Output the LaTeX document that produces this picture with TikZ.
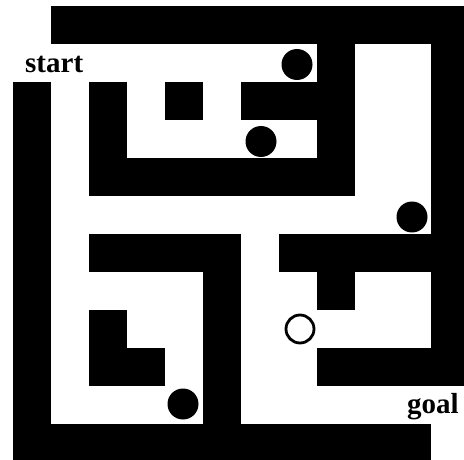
\documentclass[tikz,border=0pt]{standalone}
\usepackage{fontspec}
\setmainfont{Liberation Serif}
\begin{document}
\begin{tikzpicture}[x=1pt,y=1pt,
  wall/.style={fill=black},
  ball/.style={circle,fill=black,inner sep=0pt,minimum size=31pt},
  openball/.style={circle,draw=black,line width=2.8pt,fill=white,inner sep=0pt,minimum size=28pt},
  lbl/.style={inner sep=0pt,font=\fontsize{29}{29}\selectfont\bfseries}]
\useasboundingbox (0,0) rectangle (464,459);
\clip (0,0) rectangle (464,459);
\begin{scope}[shift={(13,453)},x=38pt,y=-38pt]
  % outer walls
  \fill[wall] (1,0) rectangle (12,1);
  \fill[wall] (11,0) rectangle (12,10);
  \fill[wall] (0,2) rectangle (1,12);
  \fill[wall] (0,11) rectangle (11,12);
  % upper block
  \fill[wall] (8,0) rectangle (9,5);
  \fill[wall] (2,2) rectangle (3,5);
  \fill[wall] (2,4) rectangle (9,5);
  \fill[wall] (4,2) rectangle (5,3);
  \fill[wall] (6,2) rectangle (9,3);
  % lower left block
  \fill[wall] (2,6) rectangle (6,7);
  \fill[wall] (5,6) rectangle (6,11);
  \fill[wall] (2,8) rectangle (3,10);
  \fill[wall] (3,9) rectangle (4,10);
  % lower right block
  \fill[wall] (7,6) rectangle (12,7);
  \fill[wall] (8,7) rectangle (9,8);
  \fill[wall] (8,9) rectangle (12,10);
\end{scope}
% balls (page y measured from top: y = 459 - top)
\node[ball] (b1) at (297,394.5) {};
\node[ball] (b2) at (261,317.5) {};
\node[ball] (b3) at (412,242) {};
\node[ball] (b4) at (183,55) {};
\node[openball] (o1) at (300,130) {};
% labels
\node[lbl,anchor=base west] (start) at (25,386) {start};
\node[lbl,anchor=base east] (goal) at (459,46) {goal};
\end{tikzpicture}
\end{document}
